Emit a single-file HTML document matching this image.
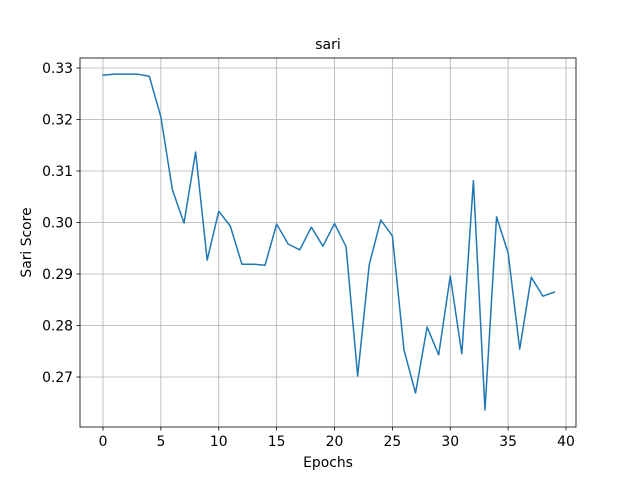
<!DOCTYPE html>
<html><head><meta charset="utf-8"><style>
body{margin:0;background:#fff;}
svg{display:block;font-family:"DejaVu Sans","Liberation Sans",sans-serif;}
</style></head><body>
<svg id="chart" width="640" height="480"></svg>
<script>
const epochs = [0,1,2,3,4,5,6,7,8,9,10,11,12,13,14,15,16,17,18,19,20,21,22,23,24,25,26,27,28,29,30,31,32,33,34,35,36,37,38,39];
const sariValues = [0.3286,0.3288,0.3288,0.3288,0.3284,0.3205,0.3063,0.2999,0.3137,0.2927,0.3022,0.2993,0.2919,0.2919,0.2917,0.2997,0.2958,0.2947,0.2991,0.2954,0.2998,0.2953,0.2702,0.2918,0.3005,0.2974,0.2753,0.2669,0.2797,0.2743,0.2896,0.2745,0.3081,0.2636,0.3011,0.2941,0.2754,0.2894,0.2857,0.2865];
const xTicks = [0,5,10,15,20,25,30,35,40];
const yTicks = [0.27,0.28,0.29,0.30,0.31,0.32,0.33];
const yTickLabels = ["0.27","0.28","0.29","0.30","0.31","0.32","0.33"];

const NS="http://www.w3.org/2000/svg";
const svg=document.getElementById('chart');
const L=80,R=576,T=58,B=427;
const xs=v=>103+(v-0)*(566-103)/40;
const ys=v=>377-(v-0.27)*(377-68)/0.06;
function mk(tag,attrs,parent){const e=document.createElementNS(NS,tag);for(const k in attrs)e.setAttribute(k,attrs[k]);(parent||svg).appendChild(e);return e;}

const grid=mk('g',{});


xTicks.forEach((t,i)=>{
  const x=xs(t);
  mk('line',{x1:x,x2:x,y1:T,y2:B,stroke:'#b0b0b0','stroke-width':0.8},grid);
  mk('line',{x1:x,x2:x,y1:B,y2:B+3.5,stroke:'#000','stroke-width':0.8});
  const tx=mk('text',{x:x,y:B+19,'text-anchor':'middle','font-size':13.9,fill:'#000'});
  tx.textContent=String(t);
  
  
});
yTicks.forEach((t,i)=>{
  const y=ys(t);
  mk('line',{x1:L,x2:R,y1:y,y2:y,stroke:'#b0b0b0','stroke-width':0.8},grid);
  mk('line',{x1:L-3.5,x2:L,y1:y,y2:y,stroke:'#000','stroke-width':0.8});
  const tx=mk('text',{x:L-7,y:y+5,'text-anchor':'end','font-size':13.9,fill:'#000'});
  tx.textContent=yTickLabels[i];
  
  
});

const line=mk('polyline',{points:epochs.map((e,i)=>xs(e)+','+ys(sariValues[i])).join(' '),fill:'none',stroke:'#1f77b4','stroke-width':1.5,'stroke-linejoin':'round','stroke-linecap':'square'});



const frame=mk('rect',{x:L,y:T,width:R-L,height:B-T,fill:'none',stroke:'#000','stroke-width':0.8});



const title=mk('text',{x:(L+R)/2,y:T-9,'text-anchor':'middle','font-size':14,fill:'#000'});
title.textContent='sari';



const xl=mk('text',{x:(L+R)/2,y:467,'text-anchor':'middle','font-size':13.9,fill:'#000'});
xl.textContent='Epochs';



const yl=mk('text',{x:0,y:0,'text-anchor':'middle','font-size':13.9,fill:'#000',transform:'translate(31,'+((T+B)/2)+') rotate(-90)'});
yl.textContent='Sari Score';


</script>
</body></html>
